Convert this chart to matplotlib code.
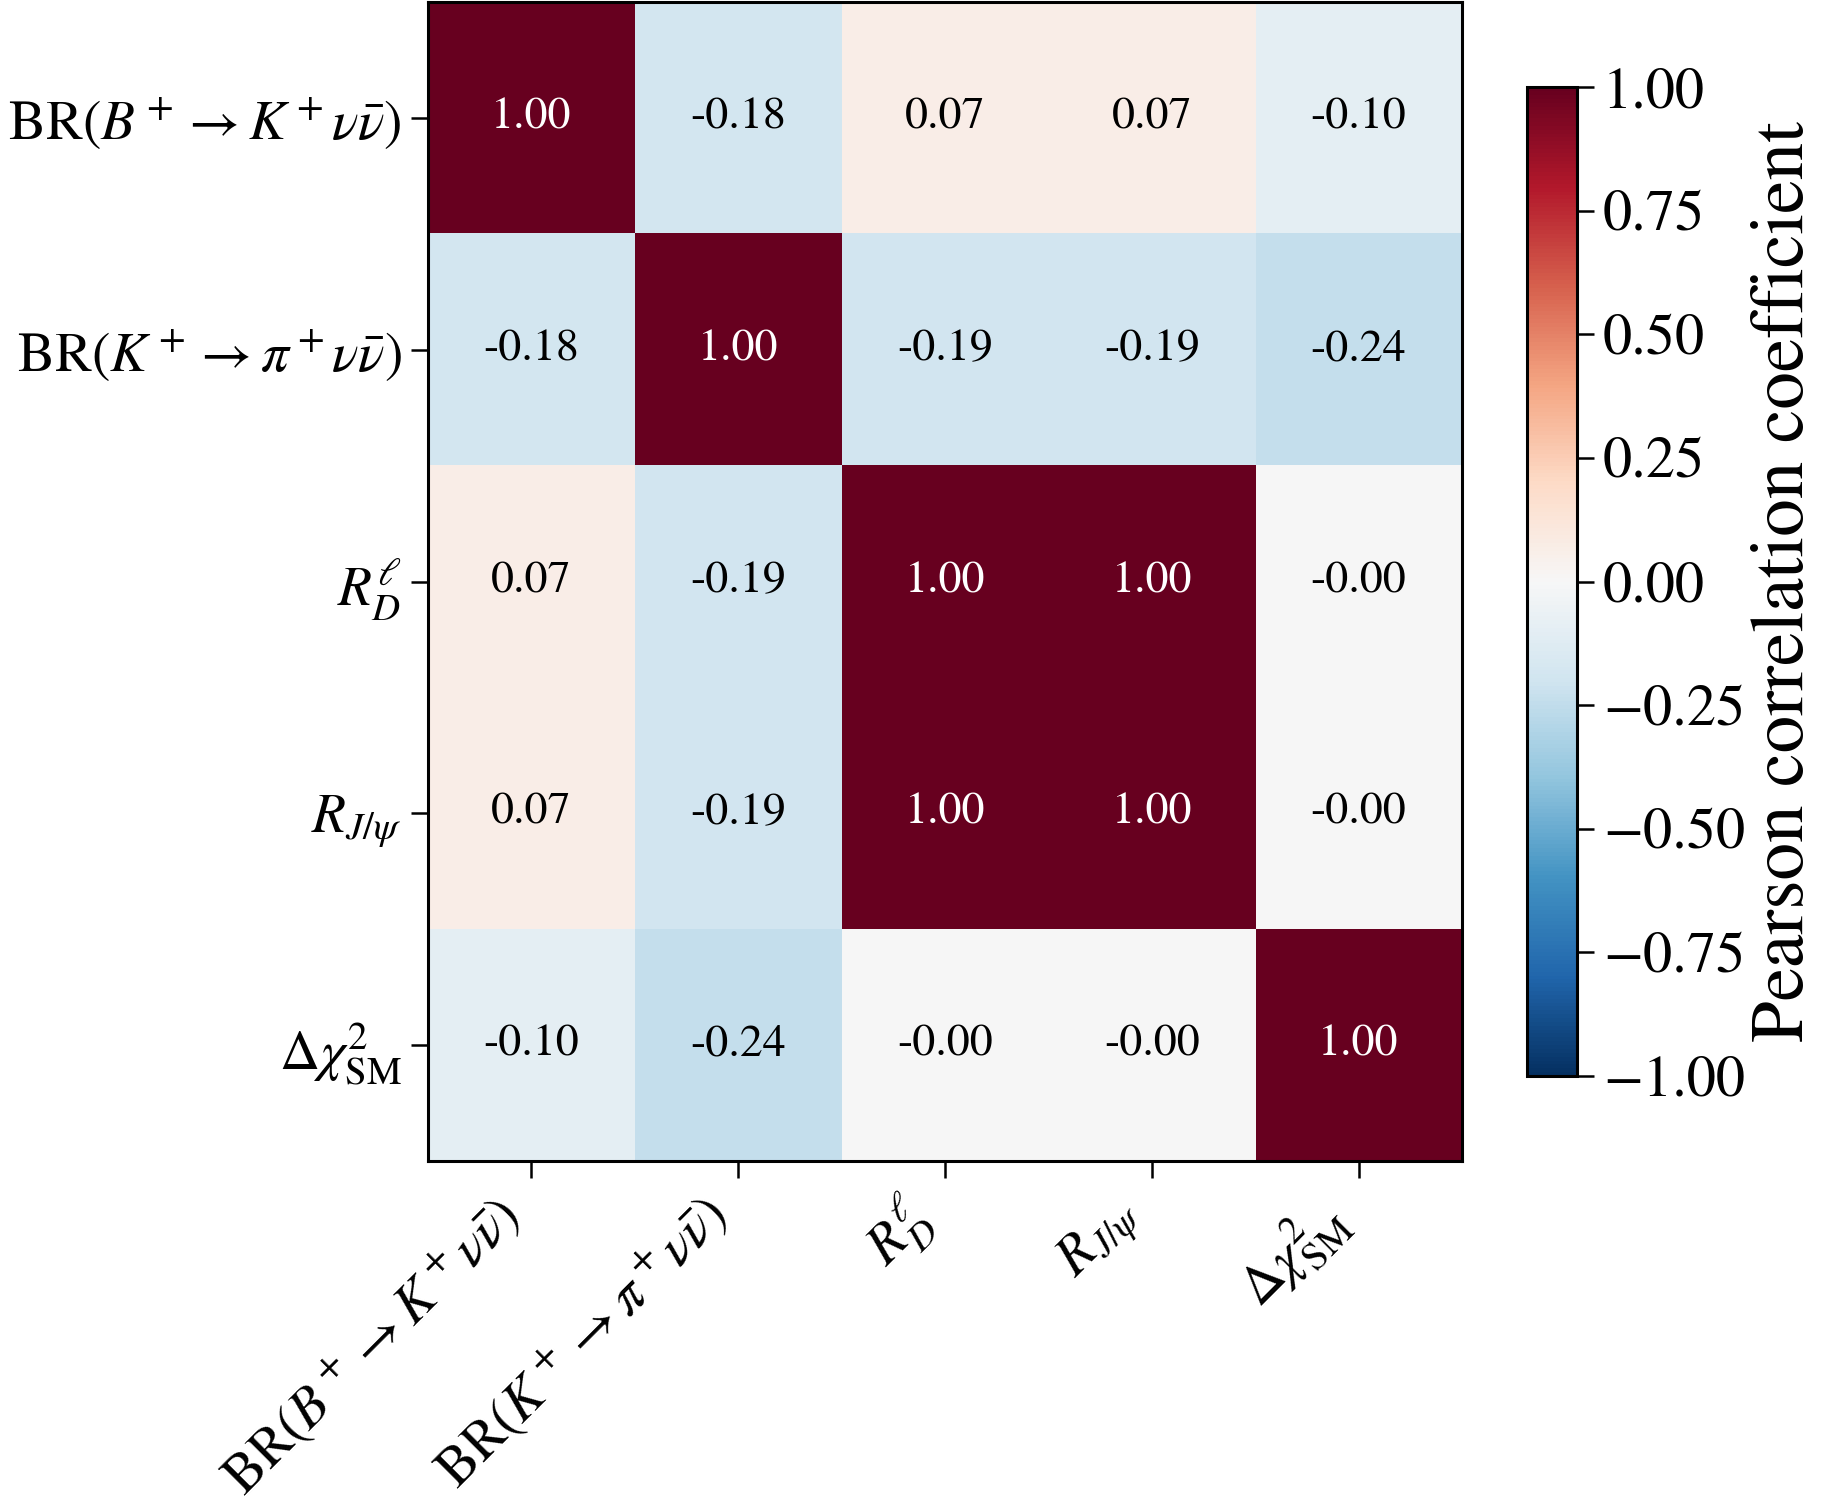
import numpy as np
import matplotlib
matplotlib.use("Agg")
import matplotlib.pyplot as plt

plt.rcParams["font.family"] = "STIXGeneral"
plt.rcParams["mathtext.fontset"] = "stix"
plt.rcParams["axes.linewidth"] = 1.1

# observables (same order on both axes)
labels = [
    r"BR$(B^+ \to K^+ \nu\bar{\nu})$",
    r"BR$(K^+ \to \pi^+ \nu\bar{\nu})$",
    r"$R_D^{\ell}$",
    r"$R_{J/\psi}$",
    r"$\Delta\chi^2_{\rm SM}$",
]

row_bk = [1.00, -0.18, 0.07, 0.07, -0.10]
row_kpi = [-0.18, 1.00, -0.19, -0.19, -0.24]
row_rd = [0.07, -0.19, 1.00, 1.00, -0.001]
row_rj = [0.07, -0.19, 1.00, 1.00, -0.001]
row_chi = [-0.10, -0.24, -0.001, -0.001, 1.00]

corr = np.array([row_bk, row_kpi, row_rd, row_rj, row_chi])

fig = plt.figure(figsize=(9.12, 7.52), dpi=200)
ax = fig.add_axes([0.2346, 0.228, 0.5669, 0.7707])
cax = fig.add_axes([0.837, 0.2846, 0.0274, 0.6574])

im = ax.imshow(corr, cmap="RdBu_r", vmin=-1, vmax=1, aspect="auto")

n = len(labels)
for i in range(n):
    for j in range(n):
        v = corr[i, j]
        col = "white" if abs(v) > 0.6 else "black"
        ax.text(j, i, f"{v:.2f}", ha="center", va="center", color=col, fontsize=16.5)

ax.set_xticks(range(n))
ax.set_yticks(range(n))
ax.set_xticklabels(labels, rotation=45, ha="right", fontsize=20)
ax.set_yticklabels(labels, fontsize=20)
ax.tick_params(length=6, width=0.9, direction="out")

cb = fig.colorbar(im, cax=cax, ticks=np.arange(-1, 1.01, 0.25))
cb.ax.tick_params(labelsize=21, length=6, width=0.9)
cb.ax.yaxis.set_major_formatter(matplotlib.ticker.FuncFormatter(lambda x, p: f"{x:.2f}".replace("-", "\u2212")))
cb.outline.set_linewidth(1.1)
cb.set_label("Pearson correlation coefficient", fontsize=27, labelpad=2)

fig.savefig("out.png", dpi=200)
